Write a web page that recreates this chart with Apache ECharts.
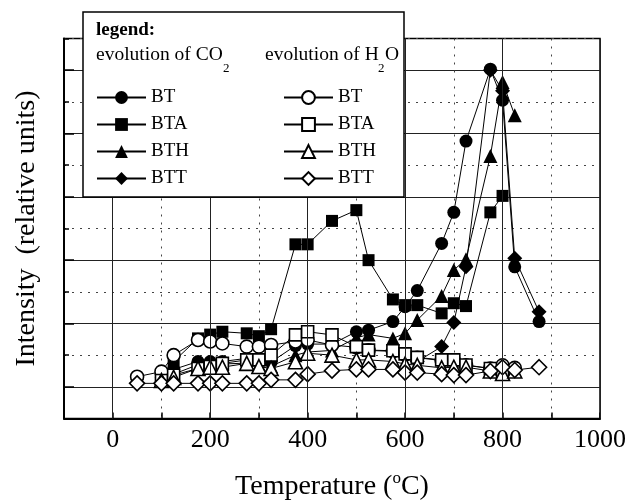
<!DOCTYPE html>
<html><head><meta charset="utf-8">
<script src="https://cdn.jsdelivr.net/npm/echarts@6/dist/echarts.min.js"></script>
<style>html,body{margin:0;padding:0;background:#fff}#c{width:625px;height:500px}</style>
</head><body><div id="c"></div>
<script>
// ---- data (temperature in °C, intensity in relative units) ----
const majorXLines = [0, 200, 400, 600, 800, 1000];

const co2_BT_T  = [100,125,175,200,225,275,300,325,375,400,450,500,525,575,600,625,675,700,725,775,800,825,875];
const co2_BT_V  = [1.3,1.55,1.8,1.8,1.8,1.9,1.9,1.78,2.3,2.35,2.35,2.74,2.79,3.06,3.53,4.04,5.53,6.51,8.76,11.03,10.05,4.79,3.06];

const co2_BTA_T = [100,125,175,200,225,275,300,325,375,400,450,500,525,575,600,625,675,700,725,775,800];
const co2_BTA_V = [1.25,1.8,2.53,2.65,2.74,2.69,2.6,2.82,5.5,5.5,6.24,6.58,5.0,3.76,3.58,3.58,3.32,3.64,3.55,6.51,7.03];

const co2_BTH_T = [100,125,175,200,225,275,300,325,375,400,450,500,525,575,600,625,675,700,725,775,800,825];
const co2_BTH_V = [1.2,1.4,1.7,1.72,1.72,1.75,1.7,1.65,2.0,2.1,2.15,2.55,2.65,2.53,2.69,3.11,3.87,4.69,5.03,8.29,10.63,9.58];

const co2_BTT_T = [625,675,700,725,775,800,825,875];
const co2_BTT_V = [1.8,2.27,3.03,4.79,11.0,10.35,5.06,3.37];

const h2o_BT_T  = [50,100,125,175,200,225,275,300,325,375,400,450,500,525,575,600,625,675,700,725,775,800,825];
const h2o_BT_V  = [1.32,1.48,2.0,2.48,2.43,2.37,2.27,2.27,2.32,2.43,2.48,2.32,2.25,2.15,2.12,2.02,1.92,1.83,1.83,1.68,1.58,1.68,1.6];

const h2o_BTA_T = [100,125,175,200,225,275,300,325,375,400,450,500,525,575,600,625,675,700,725,775,800];
const h2o_BTA_V = [1.2,1.37,1.58,1.64,1.74,1.85,1.85,2.0,2.64,2.74,2.64,2.27,2.16,2.14,2.04,1.93,1.85,1.85,1.69,1.58,1.45];

const h2o_BTH_T = [100,125,175,200,225,275,300,325,375,400,450,500,525,575,600,625,675,700,725,775,800,825];
const h2o_BTH_V = [1.2,1.3,1.58,1.62,1.62,1.74,1.64,1.58,1.79,2.06,2.0,1.85,1.85,1.8,1.72,1.68,1.6,1.62,1.62,1.5,1.42,1.5];

const h2o_BTT_T = [50,100,125,175,200,225,275,300,325,375,400,450,500,525,575,600,625,675,700,725,775,800,825,875];
const h2o_BTT_V = [1.11,1.11,1.11,1.11,1.11,1.11,1.11,1.11,1.22,1.22,1.4,1.51,1.55,1.55,1.55,1.45,1.45,1.4,1.37,1.37,1.5,1.62,1.53,1.62];

const co2Names = ['CO2 BT','CO2 BTA','CO2 BTH','CO2 BTT'];
const h2oNames = ['H2O BT','H2O BTA','H2O BTH','H2O BTT'];

// ---- chart ----
const FONT = 'Liberation Serif';
const zip = (T, V) => T.map((t, i) => [t, V[i]]);
const symSize = { circle: 13, rect: 12, triangle: 14, diamond: 15 };

function mk(name, T, V, symbol, filled) {
  return {
    name, type: 'line', data: zip(T, V),
    symbol, symbolSize: symSize[symbol],
    lineStyle: { color: '#000', width: 1 },
    itemStyle: filled ? { color: '#000', borderColor: '#000', borderWidth: 0 }
                      : { color: '#fff', borderColor: '#000', borderWidth: 1.6 },
    emphasis: { disabled: true },
    animation: false
  };
}

const series = [
  mk(co2Names[0], co2_BT_T,  co2_BT_V,  'circle',   true),
  mk(co2Names[1], co2_BTA_T, co2_BTA_V, 'rect',     true),
  mk(co2Names[2], co2_BTH_T, co2_BTH_V, 'triangle', true),
  mk(co2Names[3], co2_BTT_T, co2_BTT_V, 'diamond',  true),
  mk(h2oNames[0], h2o_BT_T,  h2o_BT_V,  'circle',   false),
  mk(h2oNames[1], h2o_BTA_T, h2o_BTA_V, 'rect',     false),
  mk(h2oNames[2], h2o_BTH_T, h2o_BTH_V, 'triangle', false),
  mk(h2oNames[3], h2o_BTT_T, h2o_BTT_V, 'diamond',  false)
];
series[0].markLine = {
  silent: true, symbol: 'none', label: { show: false }, animation: false,
  lineStyle: { type: 'solid', color: '#222', width: 1 },
  data: majorXLines.map(v => ({ xAxis: v }))
};

const legendCommon = {
  orient: 'vertical', top: 88, padding: 0, itemWidth: 49, itemHeight: 16, itemGap: 8,
  selectedMode: false, z: 20,
  textStyle: { fontFamily: FONT, fontSize: 19, color: '#000' },
  formatter: n => n.split(' ')[1]
};

const chart = echarts.init(document.getElementById('c'), null, { renderer: 'canvas' });
chart.setOption({
  animation: false,
  backgroundColor: '#fff',
  grid: { left: 64, right: 25, top: 38.5, bottom: 81.5, containLabel: false, outerBoundsMode: 'none',
          show: true, borderColor: '#000', borderWidth: 1.5, backgroundColor: 'transparent' },
  xAxis: {
    type: 'value', min: -100, max: 1000, interval: 100,
    name: '{a|Temperature (}{s|o}{a|C)}', nameLocation: 'middle', nameGap: 52,
    nameTextStyle: { rich: {
      a: { fontFamily: FONT, fontSize: 28, color: '#000', lineHeight: 32 },
      s: { fontFamily: FONT, fontSize: 17, color: '#000', lineHeight: 17, verticalAlign: 'top' }
    } },
    axisLine: { show: true, onZero: false, lineStyle: { color: '#000', width: 2 } },
    axisTick: { show: true, inside: true, length: 6, lineStyle: { color: '#000', width: 1.5 } },
    axisLabel: { fontFamily: FONT, fontSize: 26, color: '#000', margin: 9,
      formatter: v => (v >= 0 && v % 200 === 0) ? String(v) : '' },
    splitLine: { show: true, lineStyle: { color: '#444', width: 1, type: [2, 6] } }
  },
  yAxis: {
    type: 'value', min: 0, max: 12, interval: 2,
    name: 'Intensity  (relative units)', nameLocation: 'middle', nameGap: 23,
    nameTextStyle: { fontFamily: FONT, fontSize: 28, color: '#000' },
    axisLine: { show: true, onZero: false, lineStyle: { color: '#000', width: 2 } },
    axisTick: { show: true, inside: true, length: 5, lineStyle: { color: '#000', width: 1.5 } },
    minorTick: { show: true, splitNumber: 2, length: 10, lineStyle: { color: '#000', width: 1.5 } },
    axisLabel: { show: false },
    splitLine: { show: true, lineStyle: { color: '#444', width: 1, type: [2, 6] } },
    minorSplitLine: { show: true, lineStyle: { color: '#222', width: 1, type: 'solid' } }
  },
  legend: [
    Object.assign({ left: 96, data: co2Names }, legendCommon),
    Object.assign({ left: 283, data: h2oNames }, legendCommon)
  ],
  graphic: [
    { type: 'rect', z: 10, shape: { x: 83, y: 12, width: 321, height: 185 },
      style: { fill: '#fff', stroke: '#000', lineWidth: 1.5 } },
    { type: 'text', z: 20, left: 96, top: 21,
      style: { text: 'legend:', font: 'bold 19px "Liberation Serif"', fill: '#000' } },
    { type: 'text', z: 20, left: 96, top: 45,
      style: { text: 'evolution of CO', font: '19.5px "Liberation Serif"', fill: '#000' } },
    { type: 'text', z: 20, left: 223, top: 62,
      style: { text: '2', font: '13px "Liberation Serif"', fill: '#000' } },
    { type: 'text', z: 20, left: 265, top: 45,
      style: { text: 'evolution of H', font: '19.5px "Liberation Serif"', fill: '#000' } },
    { type: 'text', z: 20, left: 378, top: 62,
      style: { text: '2', font: '13px "Liberation Serif"', fill: '#000' } },
    { type: 'text', z: 20, left: 385, top: 45,
      style: { text: 'O', font: '19.5px "Liberation Serif"', fill: '#000' } }
  ],
  series
});
</script>
</body></html>
